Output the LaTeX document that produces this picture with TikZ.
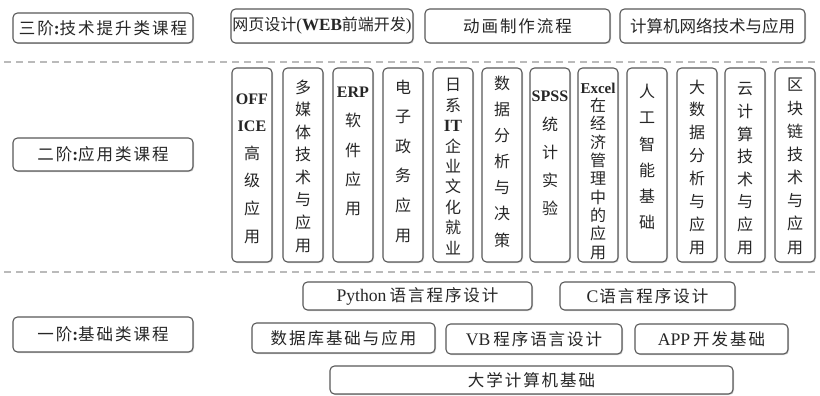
\documentclass[tikz,border=0pt]{standalone}
\usepackage{fontspec}
\setmainfont{Noto Sans CJK SC}
\newfontfamily\latf[Scale=1.07]{Liberation Serif}
\newfontfamily\cjkS[LetterSpace=12]{Noto Sans CJK SC}
\usetikzlibrary{shadows}
\newcommand\lat[1]{{\latf #1}}
\newcommand\latb[1]{{\latf\bfseries #1}}
\tikzset{
  box/.style={draw=black!65, line width=1.1pt, rounded corners=4.5pt, fill=white,
    inner sep=0pt, text=black!85,
    drop shadow={shadow xshift=1pt, shadow yshift=-1pt, opacity=0.35}},
  hsp/.style={font=\fontsize{16.5}{18}\selectfont\cjkS},
  htight/.style={font=\fontsize{16.5}{18}\selectfont},
  vt/.style={font=\fontsize{16}{18}\selectfont, inner sep=0pt, text height=13pt,
    text depth=1pt, text=black!85},
  sepline/.style={draw=black!27, line width=1.5pt, dash pattern=on 7pt off 5pt}
}
\newcommand\hb[7][]{\node[box, hsp, #1, minimum width={#5-#3}, minimum height={#6-#4}]
  (#2) at ({(#3+#5)/2},{(#4+#6)/2}) {#7};}
\newcommand\vc[6]{%
  \node[box, minimum width=40, minimum height=194] (#1) at ({#2+20},165) {};
  \foreach \s [count=\i from 0] in {#6} {%
    \node[vt] (#1-\i) at ({#2+20},{#3+\i*(#4-#3)/(#5-1)}) {\s};}%
}
\begin{document}
\begin{tikzpicture}[x=1pt,y=-1pt]
\fill[white] (0,0) rectangle (820,396);
\useasboundingbox (0,0) rectangle (820,396);
% separators
\coordinate (d1a) at (4,62);  \coordinate (d1b) at (817,62);
\coordinate (d2a) at (4,272); \coordinate (d2b) at (817,272);
\draw[sepline] (d1a) -- (d1b);
\draw[sepline] (d2a) -- (d2b);
% level 3
\hb{l3}{13}{13}{193}{43}{三阶\latb{:}技术提升类课程}
\hb[htight]{w1}{231}{9}{413}{43}{\fontsize{16}{18}\selectfont 网页设计\lat{(}\latb{WEB}前端开发\lat{)}}
\hb{w2}{425}{9}{610}{43}{动画制作流程}
\hb[htight]{w3}{620}{9}{805}{43}{计算机网络技术与应用}
% level 2
\hb{l2}{13}{138}{193}{171}{二阶\latb{:}应用类课程}
\vc{v1}{232}{98}{236}{6}{{\fontsize{15}{16}\selectfont\latb{OFF}},{\fontsize{15}{16}\selectfont\latb{ICE}},高,级,应,用}
\vc{v2}{283}{87}{245}{8}{多,媒,体,技,术,与,应,用}
\vc{v3}{333}{92}{208}{5}{{\fontsize{15}{16}\selectfont\latb{ERP}},软,件,应,用}
\vc{v4}{383}{87}{235}{6}{电,子,政,务,应,用}
\vc{v5}{433}{85}{248}{9}{日,系,\latb{IT},企,业,文,化,就,业}
\vc{v6}{482}{83}{240}{7}{数,据,分,析,与,决,策}
\vc{v7}{530}{96}{208}{5}{{\fontsize{15}{16}\selectfont\latb{SPSS}},统,计,实,验}
\vc{v8}{578}{87}{252}{10}{{\fontsize{14}{16}\selectfont\latb{Excel}},在,经,济,管,理,中,的,应,用}
\vc{v9}{627}{92}{222}{6}{人,工,智,能,基,础}
\vc{v10}{677}{87}{247}{8}{大,数,据,分,析,与,应,用}
\vc{v11}{725}{89}{247}{8}{云,计,算,技,术,与,应,用}
\vc{v12}{775}{85}{247}{8}{区,块,链,技,术,与,应,用}
% level 1
\hb{l1}{13}{317}{193}{352}{一阶\latb{:}基础类课程}
\hb{p1}{303}{282}{532}{310}{\lat{Python}\hspace{3pt}语言程序设计}
\hb{p2}{560}{282}{735}{310}{\lat{C}\hspace{1pt}语言程序设计}
\hb{p3}{252}{323}{435}{353}{数据库基础与应用}
\hb{p4}{446}{324}{622}{354}{\lat{VB}\hspace{3pt}程序语言设计}
\hb{p5}{635}{324}{788}{354}{\lat{APP}\hspace{3pt}开发基础}
\hb{p6}{330}{366}{733}{394}{大学计算机基础}
\end{tikzpicture}
\end{document}
